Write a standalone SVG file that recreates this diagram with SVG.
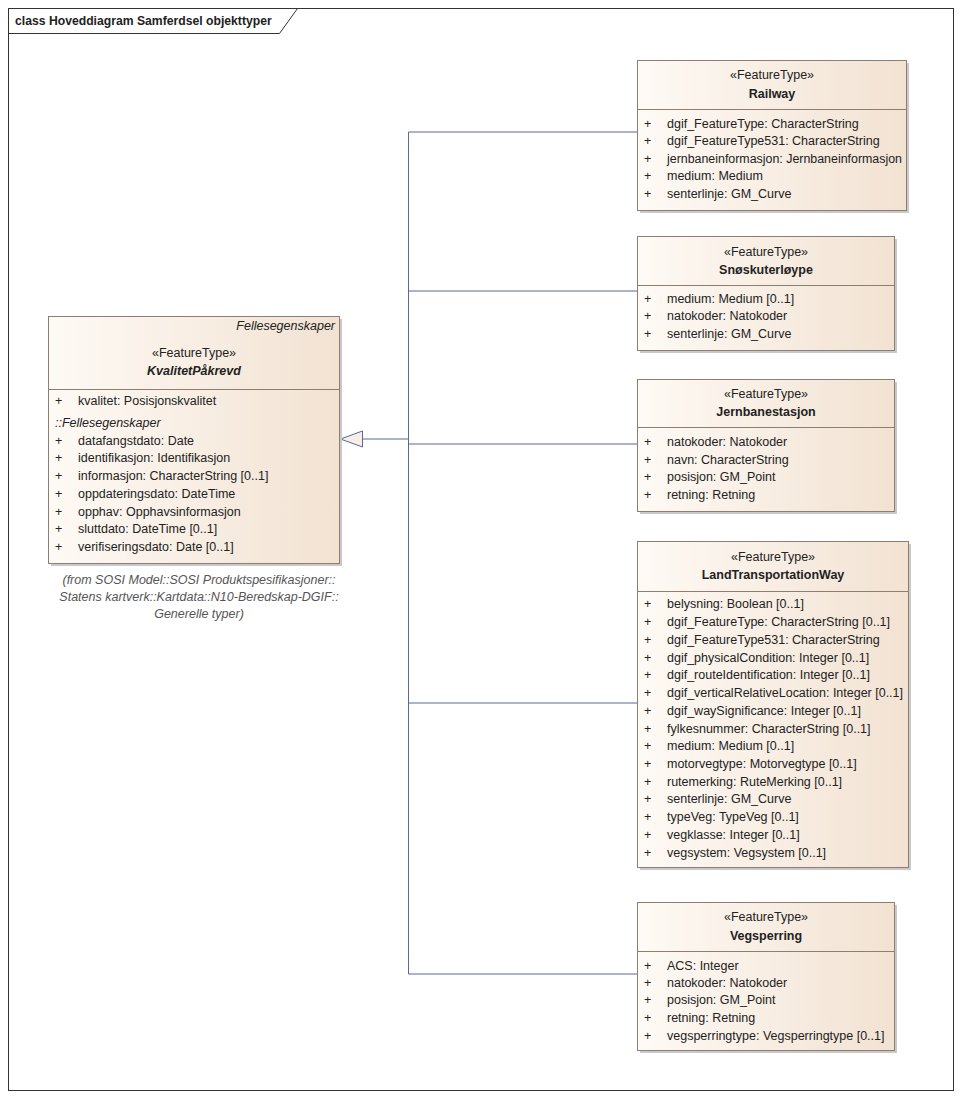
<svg xmlns="http://www.w3.org/2000/svg" width="961" height="1099" viewBox="0 0 961 1099">
<defs>
<linearGradient id="fill" x1="0" y1="0" x2="1" y2="0">
<stop offset="0" stop-color="#FEFAF5"/>
<stop offset="1" stop-color="#F2E2D2"/>
</linearGradient>
</defs>
<style>
text{font-family:"Liberation Sans",Arial,sans-serif;font-size:12.5px;fill:#222}
.b{font-weight:bold}
.i{font-style:italic}
.c{text-anchor:middle}
.r{text-anchor:end}
.t{font-size:12.2px}
.box{fill:url(#fill);stroke:#8E7E72;stroke-width:1}
.sh{fill:#C9C9C9}
.div{stroke:#8E7E72;stroke-width:1}
.con{fill:none;stroke:#5B6890;stroke-width:1}
.cap{fill:#555;font-style:italic}
</style>
<rect x="0" y="0" width="961" height="1099" fill="#fff"/>
<g id="frame">
<rect x="8.5" y="8.5" width="945" height="1082" fill="none" stroke="#333"/>
<path d="M8.5 33.5 H279.5 L297.5 8.5" fill="none" stroke="#333"/>
<text x="15" y="25" class="b t">class Hoveddiagram Samferdsel objekttyper</text>
</g>
<g id="connectors">
<path class="con" d="M362 439 H408.5"/>
<path class="con" d="M408.5 132 V974"/>
<path class="con" d="M408.5 132 H637"/>
<path class="con" d="M408.5 291 H637"/>
<path class="con" d="M408.5 444 H637"/>
<path class="con" d="M408.5 703 H637"/>
<path class="con" d="M408.5 974 H637"/>
<polygon points="340.5,439 362.5,431 362.5,447" fill="#F7EEE8" stroke="#5B6890"/>
</g>
<g id="KvalitetPakrevd">
<rect class="sh" x="51" y="319" width="291" height="247"/>
<rect class="box" x="48.5" y="316.5" width="291" height="247"/>
<line class="div" x1="48.5" y1="389.5" x2="339.5" y2="389.5"/>
<text x="335" y="330" class="i r">Fellesegenskaper</text>
<text x="194" y="357" class="c">«FeatureType»</text>
<text x="194" y="375" class="c b i">KvalitetPåkrevd</text>
<text x="55" y="405">+</text><text x="78" y="405">kvalitet: Posisjonskvalitet</text>
<text x="55" y="427" class="i">::Fellesegenskaper</text>
<text x="55" y="445">+</text><text x="78" y="445">datafangstdato: Date</text>
<text x="55" y="462">+</text><text x="78" y="462">identifikasjon: Identifikasjon</text>
<text x="55" y="480">+</text><text x="78" y="480">informasjon: CharacterString [0..1]</text>
<text x="55" y="498">+</text><text x="78" y="498">oppdateringsdato: DateTime</text>
<text x="55" y="516">+</text><text x="78" y="516">opphav: Opphavsinformasjon</text>
<text x="55" y="533">+</text><text x="78" y="533">sluttdato: DateTime [0..1]</text>
<text x="55" y="551">+</text><text x="78" y="551">verifiseringsdato: Date [0..1]</text>
<text x="199" y="584" class="c cap">(from SOSI Model::SOSI Produktspesifikasjoner::</text>
<text x="199" y="601" class="c cap">Statens kartverk::Kartdata::N10-Beredskap-DGIF::</text>
<text x="199" y="618" class="c cap">Generelle typer)</text>
</g>
<g id="Railway">
<rect class="sh" x="640" y="63" width="269" height="150"/>
<rect class="box" x="637.5" y="60.5" width="269" height="150"/>
<line class="div" x1="637.5" y1="109.5" x2="906.5" y2="109.5"/>
<text x="772" y="79" class="c">«FeatureType»</text>
<text x="772" y="98" class="c b">Railway</text>
<text x="644" y="128">+</text><text x="667" y="128">dgif_FeatureType: CharacterString</text>
<text x="644" y="145">+</text><text x="667" y="145">dgif_FeatureType531: CharacterString</text>
<text x="644" y="163">+</text><text x="667" y="163" textLength="235" lengthAdjust="spacingAndGlyphs">jernbaneinformasjon: Jernbaneinformasjon</text>
<text x="644" y="180">+</text><text x="667" y="180">medium: Medium</text>
<text x="644" y="198">+</text><text x="667" y="198">senterlinje: GM_Curve</text>
</g>
<g id="Snoskuterloype">
<rect class="sh" x="640" y="239" width="257" height="114"/>
<rect class="box" x="637.5" y="236.5" width="257" height="114"/>
<line class="div" x1="637.5" y1="285.5" x2="894.5" y2="285.5"/>
<text x="766" y="256" class="c">«FeatureType»</text>
<text x="766" y="274" class="c b">Snøskuterløype</text>
<text x="644" y="303">+</text><text x="667" y="303">medium: Medium [0..1]</text>
<text x="644" y="320">+</text><text x="667" y="320">natokoder: Natokoder</text>
<text x="644" y="338">+</text><text x="667" y="338">senterlinje: GM_Curve</text>
</g>
<g id="Jernbanestasjon">
<rect class="sh" x="640" y="382" width="257" height="132"/>
<rect class="box" x="637.5" y="379.5" width="257" height="132"/>
<line class="div" x1="637.5" y1="427.5" x2="894.5" y2="427.5"/>
<text x="766" y="398" class="c">«FeatureType»</text>
<text x="766" y="416" class="c b">Jernbanestasjon</text>
<text x="644" y="446">+</text><text x="667" y="446">natokoder: Natokoder</text>
<text x="644" y="464">+</text><text x="667" y="464">navn: CharacterString</text>
<text x="644" y="481">+</text><text x="667" y="481">posisjon: GM_Point</text>
<text x="644" y="499">+</text><text x="667" y="499">retning: Retning</text>
</g>
<g id="LandTransportationWay">
<rect class="sh" x="640" y="544" width="271" height="326"/>
<rect class="box" x="637.5" y="541.5" width="271" height="326"/>
<line class="div" x1="637.5" y1="591.5" x2="908.5" y2="591.5"/>
<text x="773" y="561" class="c">«FeatureType»</text>
<text x="773" y="579" class="c b">LandTransportationWay</text>
<text x="644" y="608">+</text><text x="667" y="608">belysning: Boolean [0..1]</text>
<text x="644" y="626">+</text><text x="667" y="626">dgif_FeatureType: CharacterString [0..1]</text>
<text x="644" y="644">+</text><text x="667" y="644">dgif_FeatureType531: CharacterString</text>
<text x="644" y="662">+</text><text x="667" y="662">dgif_physicalCondition: Integer [0..1]</text>
<text x="644" y="679">+</text><text x="667" y="679">dgif_routeIdentification: Integer [0..1]</text>
<text x="644" y="697">+</text><text x="667" y="697" textLength="236" lengthAdjust="spacingAndGlyphs">dgif_verticalRelativeLocation: Integer [0..1]</text>
<text x="644" y="715">+</text><text x="667" y="715">dgif_waySignificance: Integer [0..1]</text>
<text x="644" y="733">+</text><text x="667" y="733">fylkesnummer: CharacterString [0..1]</text>
<text x="644" y="750">+</text><text x="667" y="750">medium: Medium [0..1]</text>
<text x="644" y="768">+</text><text x="667" y="768">motorvegtype: Motorvegtype [0..1]</text>
<text x="644" y="786">+</text><text x="667" y="786">rutemerking: RuteMerking [0..1]</text>
<text x="644" y="803">+</text><text x="667" y="803">senterlinje: GM_Curve</text>
<text x="644" y="821">+</text><text x="667" y="821">typeVeg: TypeVeg [0..1]</text>
<text x="644" y="839">+</text><text x="667" y="839">vegklasse: Integer [0..1]</text>
<text x="644" y="857">+</text><text x="667" y="857">vegsystem: Vegsystem [0..1]</text>
</g>
<g id="Vegsperring">
<rect class="sh" x="640" y="905" width="257" height="148"/>
<rect class="box" x="637.5" y="902.5" width="257" height="148"/>
<line class="div" x1="637.5" y1="951.5" x2="894.5" y2="951.5"/>
<text x="766" y="921" class="c">«FeatureType»</text>
<text x="766" y="940" class="c b">Vegsperring</text>
<text x="644" y="970">+</text><text x="667" y="970">ACS: Integer</text>
<text x="644" y="987">+</text><text x="667" y="987">natokoder: Natokoder</text>
<text x="644" y="1004">+</text><text x="667" y="1004">posisjon: GM_Point</text>
<text x="644" y="1022">+</text><text x="667" y="1022">retning: Retning</text>
<text x="644" y="1040">+</text><text x="667" y="1040">vegsperringtype: Vegsperringtype [0..1]</text>
</g>
</svg>
